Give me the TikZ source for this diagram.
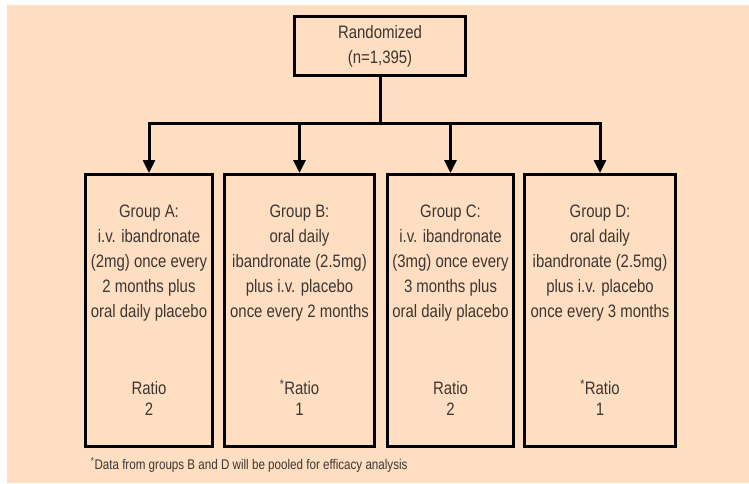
\documentclass[tikz,border=0pt]{standalone}
\usepackage{fontspec}
\setmainfont{Liberation Sans}[FakeStretch=0.83]
\usetikzlibrary{positioning,arrows.meta}
\definecolor{peach}{HTML}{FFDEC1}
\definecolor{ink}{HTML}{3C3632}

\begin{document}
\begin{tikzpicture}[x=1pt,y=1pt,line width=3pt,on grid,
  box/.style={draw,inner sep=0pt,align=center,text=ink,font=\fontsize{18}{25}\selectfont},
  grp/.style={box,minimum height=272pt},
  arr/.style={-{Triangle[width=12pt,length=13pt]}}]
 \useasboundingbox (0,0) rectangle (749,483);
 \fill[peach] (7,0) rectangle (749,478);
 \node[box,minimum width=171pt,minimum height=59pt] (rand) at (380,437) {Randomized\\(n=1,395)};
 \node[grp,minimum width=127pt] (grp_A) at (149,172.5)
  {Group A:\\i.v. ibandronate\\(2mg) once every\\2 months plus\\oral daily placebo\\[52pt]Ratio\\[-4pt]2};
 \node[grp,minimum width=150pt] (grp_B)[right=150.5pt of grp_A]
  {Group B:\\oral daily\\ibandronate (2.5mg)\\plus i.v. placebo\\once every 2 months\\[52pt]\textsuperscript{*}Ratio\\[-4pt]1};
 \node[grp,minimum width=126pt] (grp_C)[right=151pt of grp_B]
  {Group C:\\i.v. ibandronate\\(3mg) once every\\3 months plus\\oral daily placebo\\[52pt]Ratio\\[-4pt]2};
 \node[grp,minimum width=151pt] (grp_D)[right=149.5pt of grp_C]
  {Group D:\\oral daily\\ibandronate (2.5mg)\\plus i.v. placebo\\once every 3 months\\[52pt]\textsuperscript{*}Ratio\\[-4pt]1};
 \node[anchor=west,text=ink,font=\fontsize{14}{16}\selectfont] (note) at (86,18)
  {\textsuperscript{*}Data from groups B and D will be pooled for efficacy analysis};
 \coordinate (split) at (380,360);
 \draw (rand) -- (split);
 \foreach \g in {A,B,C,D}
  \draw[arr] (split) -| (grp_\g.north);
\end{tikzpicture}
\end{document}
